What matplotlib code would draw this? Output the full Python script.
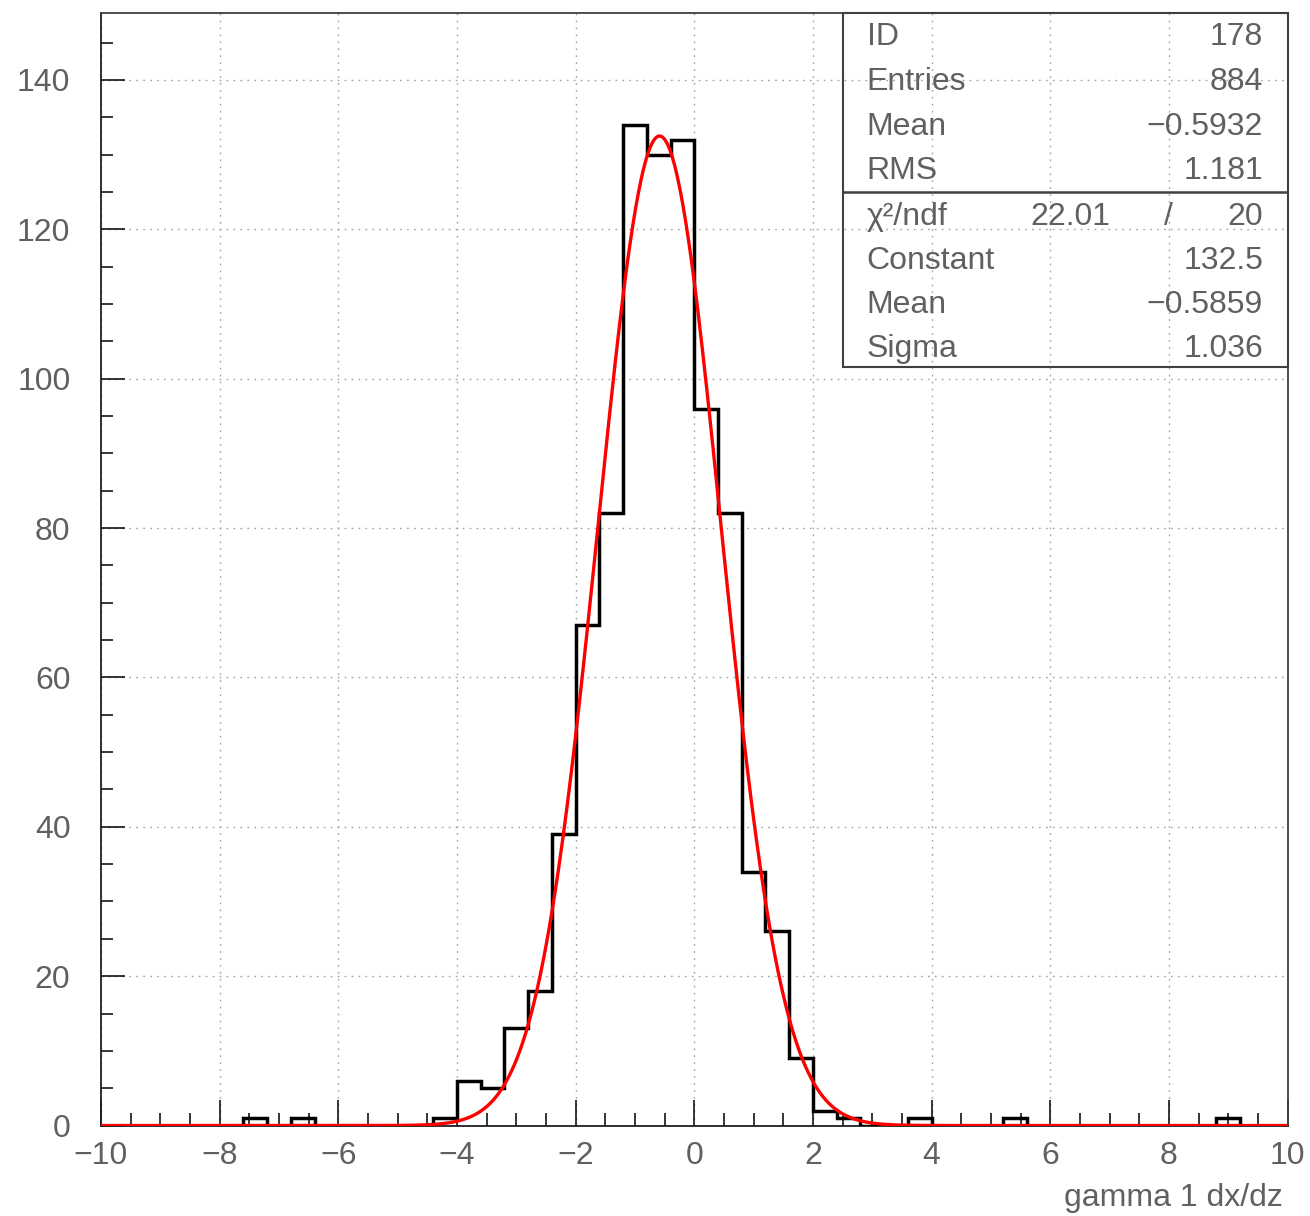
import matplotlib
matplotlib.use('Agg')
import matplotlib.pyplot as plt
from matplotlib.patches import Rectangle
from matplotlib.ticker import MultipleLocator
import numpy as np

# histogram: 50 bins from -10 to 10
x_lo = -10.0
x_hi = 10.0
n_bins = 50
counts = [0, 0, 0, 0, 0, 0, 1, 0, 1, 0,
          0, 0, 0, 0, 1, 6, 5, 13, 18, 39,
          67, 82, 134, 130, 132, 96, 82, 34, 26, 9,
          2, 1, 0, 0, 1, 0, 0, 0, 1, 0,
          0, 0, 0, 0, 0, 0, 0, 1, 0, 0]

# gaussian fit result (from the stats box)
fit_const = 132.5
fit_mean = -0.5859
fit_sigma = 1.036

stats_top = [('ID', '178'), ('Entries', '884'), ('Mean', '\u22120.5932'), ('RMS', '1.181')]
chi2 = '22.01'
ndf = '20'
stats_fit = [('Constant', '132.5'), ('Mean', '\u22120.5859'), ('Sigma', '1.036')]

xlabel = 'gamma 1 dx/dz'

plt.rcParams['font.family'] = ['Liberation Sans', 'DejaVu Sans']
txt_col = '#606060'

edges = np.linspace(x_lo, x_hi, n_bins + 1)
xf = np.linspace(x_lo, x_hi, 800)
yf = fit_const * np.exp(-0.5 * ((xf - fit_mean) / fit_sigma) ** 2)

fig = plt.figure(figsize=(13.1, 12.16), dpi=100)
ax = fig.add_axes([0.0771, 0.0744, 0.9058, 0.9145])

ax.stairs(counts, edges, baseline=0, color='black', lw=2.5, zorder=3)
ax.plot(xf, yf, color='#ff0000', lw=2.4, zorder=4)

ax.set_xlim(x_lo, x_hi)
ax.set_ylim(0, 148.9)
ax.xaxis.set_major_locator(MultipleLocator(2))
ax.xaxis.set_minor_locator(MultipleLocator(0.5))
ax.yaxis.set_major_locator(MultipleLocator(20))
ax.yaxis.set_minor_locator(MultipleLocator(5))
ax.tick_params(axis='x', which='major', direction='in', length=18.5, width=1.1,
               labelsize=23, labelcolor=txt_col, pad=11, top=False)
ax.tick_params(axis='x', which='minor', direction='in', length=9.3, width=1.1, top=False)
ax.tick_params(axis='y', which='major', direction='in', length=17.5, width=1.1,
               labelsize=23, labelcolor=txt_col, pad=22, right=False)
ax.tick_params(axis='y', which='minor', direction='in', length=8.5, width=1.1, right=False)
ax.grid(True, which='major', color='#a8a8a8', lw=1.0, ls=(0, (1.3, 3.7)), zorder=1)
for s in ax.spines.values():
    s.set_linewidth(1.3)
    s.set_color('#404040')
ax.spines['left'].set_color('#202020')
ax.spines['bottom'].set_color('#202020')

# stats box, transparent like the original
bx0, by0, by_div = 0.6254, 0.6821, 0.8395
ax.add_patch(Rectangle((bx0, by0), 1 - bx0, 1 - by0, transform=ax.transAxes,
                       fill=False, ec='#404040', lw=1.5, zorder=5, clip_on=False))
ax.plot([bx0, 1], [by_div, by_div], transform=ax.transAxes, color='#404040', lw=1.8, zorder=5)

lx, rx = 0.6453, 0.9794
row_px = [37, 82, 127, 171, 217, 261, 305, 349]
def row_y(p):
    return (1125.5 - p) / 1112.0

for (name, val), p in zip(stats_top, row_px[:4]):
    ax.text(lx, row_y(p), name, transform=ax.transAxes, ha='left', va='center',
            fontsize=23, color=txt_col, zorder=6)
    ax.text(rx, row_y(p), val, transform=ax.transAxes, ha='right', va='center',
            fontsize=23, color=txt_col, zorder=6)
ax.text(lx, row_y(row_px[4]), '\u03c7\u00b2/ndf', transform=ax.transAxes, ha='left',
        va='center', fontsize=23, color=txt_col, zorder=6)
ax.text(0.8504, row_y(row_px[4]), chi2, transform=ax.transAxes, ha='right', va='center',
        fontsize=23, color=txt_col, zorder=6)
ax.text(0.8993, row_y(row_px[4]), '/', transform=ax.transAxes, ha='center', va='center',
        fontsize=23, color=txt_col, zorder=6)
ax.text(rx, row_y(row_px[4]), ndf, transform=ax.transAxes, ha='right', va='center',
        fontsize=23, color=txt_col, zorder=6)
for (name, val), p in zip(stats_fit, row_px[5:]):
    ax.text(lx, row_y(p), name, transform=ax.transAxes, ha='left', va='center',
            fontsize=23, color=txt_col, zorder=6)
    ax.text(rx, row_y(p), val, transform=ax.transAxes, ha='right', va='center',
            fontsize=23, color=txt_col, zorder=6)

fig.text(1283 / 1310, (1216 - 1206) / 1216, xlabel, ha='right', va='baseline',
         fontsize=23, color=txt_col)

fig.savefig('out.png', dpi=100)
